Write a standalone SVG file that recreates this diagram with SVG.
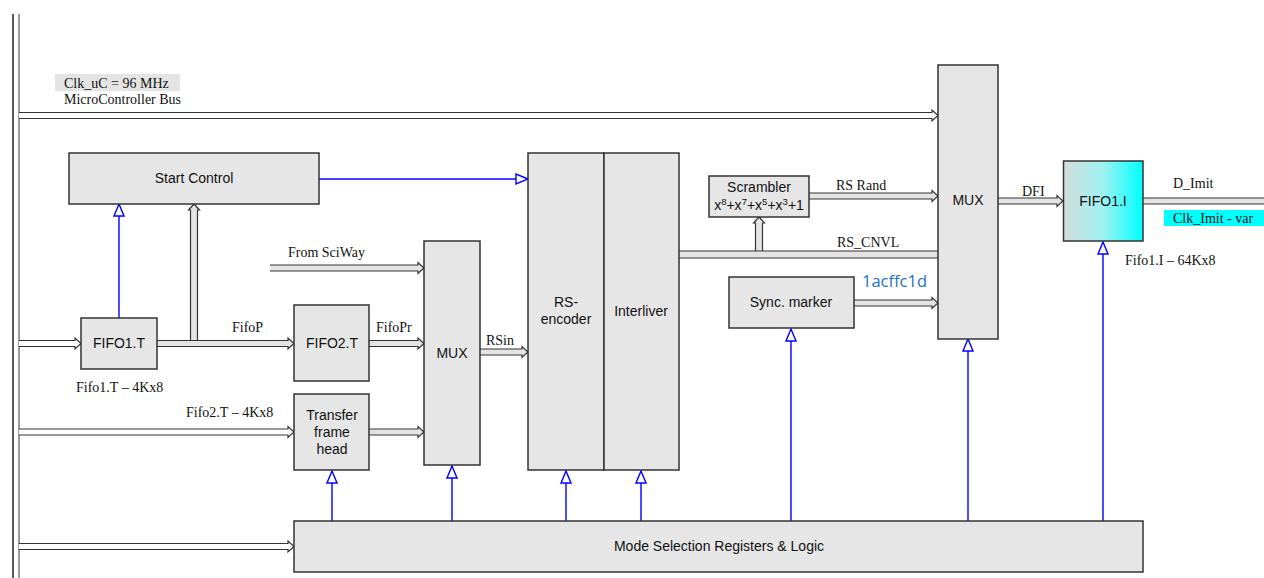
<svg xmlns="http://www.w3.org/2000/svg" width="1264" height="578" viewBox="0 0 1264 578">
<style>
.box{fill:#e6e6e6;stroke:#333;stroke-width:1.5}
.bus{fill:#e4e4e4;stroke:#333;stroke-width:1.2}
.busw{fill:#fff;stroke:#333;stroke-width:1.2}
.ctl{stroke:#0000ff;stroke-width:1.4;fill:none;marker-end:url(#tri)}
.t{font-family:"Liberation Sans",Arial,sans-serif;font-size:14px;fill:#111;text-anchor:middle}
.s{font-family:"Liberation Serif","Times New Roman",serif;font-size:14px;fill:#111}
</style>
<defs>
<marker id="tri" markerWidth="12" markerHeight="14" refX="6" refY="1" orient="0" markerUnits="userSpaceOnUse" viewBox="0 0 12 14">
<path d="M6,1 L11,13 L1,13 Z" fill="#fff" stroke="#0000ff" stroke-width="1.4"/>
</marker>
<marker id="triR" markerWidth="14" markerHeight="12" refX="13" refY="6" orient="0" markerUnits="userSpaceOnUse" viewBox="0 0 14 12">
<path d="M13,6 L1,1 L1,11 Z" fill="#fff" stroke="#0000ff" stroke-width="1.4"/>
</marker>
<linearGradient id="cy" x1="0" y1="0" x2="1" y2="0">
<stop offset="0" stop-color="#d4dcdc"/>
<stop offset="0.5" stop-color="#9ef2f2"/>
<stop offset="1" stop-color="#00ffff"/>
</linearGradient>
</defs>
<rect width="1264" height="578" fill="#fff"/>

<g id="bus-left">
<line x1="13" y1="14" x2="13" y2="578" stroke="#222" stroke-width="1.5"/>
<line x1="19" y1="14" x2="19" y2="578" stroke="#777" stroke-width="1.5"/>
</g>

<g id="labels-top">
<rect x="55" y="74" width="125" height="17" fill="#e4e4e4"/>
<text class="s" x="64" y="88">Clk_uC = 96 MHz</text>
<text class="s" x="64" y="104">MicroController Bus</text>
</g>

<g id="connectors">
<!-- up buses -->
<path class="bus" d="M190.5,340.5 V210 H188.5 L194,204 L199.5,210 H197.5 V340.5"/>
<path class="bus" d="M755.5,251 V223 H753.5 L759,217 L764.5,223 H762.5 V251"/>
<!-- right pointing buses -->
<path class="busw" d="M19,112.5 H932 V110 L938,115.5 L932,121 V118.5 H19"/>
<path class="busw" d="M19,340.5 H75 V338 L81,343.5 L75,349 V346.5 H19"/>
<path class="bus" d="M157,340.5 H288 V338 L294,343.5 L288,349 V346.5 H157"/>
<path class="bus" d="M369,340.5 H418 V338 L424,343.5 L418,349 V346.5 H369"/>
<path class="bus" d="M270,265 H418 V262.5 L424,268 L418,273.5 V271 H270"/>
<path class="busw" d="M19,429 H288 V426.5 L294,432 L288,437.5 V435 H19"/>
<path class="bus" d="M369,429 H418 V426.5 L424,432 L418,437.5 V435 H369"/>
<path class="bus" d="M480,349 H522 V346.5 L528,352 L522,357.5 V355 H480"/>
<path class="bus" d="M809,193 H932 V190.5 L938,196 L932,201.5 V199 H809"/>
<path class="bus" d="M854,300 H932 V297.5 L938,303 L932,308.5 V306 H854"/>
<path class="bus" d="M998,198 H1057 V195.5 L1063,201 L1057,206.5 V204 H998"/>
<path class="busw" d="M19,543.5 H288 V541 L294,546.5 L288,552 V549.5 H19"/>
<!-- plain buses -->
<rect x="679" y="251" width="259" height="7" fill="#e4e4e4"/>
<path d="M679,251 H938 M679,258 H938" stroke="#333" stroke-width="1.2" fill="none"/>
<rect x="1143" y="198" width="121" height="6" fill="#e4e4e4"/>
<path d="M1143,198 H1264 M1143,204 H1264" stroke="#333" stroke-width="1.2" fill="none"/>
<!-- control lines -->
<line x1="319" y1="179" x2="528" y2="179" stroke="#0000ff" stroke-width="1.4" marker-end="url(#triR)"/>
<line class="ctl" x1="119" y1="318" x2="119" y2="204"/>
<line class="ctl" x1="332" y1="521" x2="332" y2="471"/>
<line class="ctl" x1="452" y1="521" x2="452" y2="466"/>
<line class="ctl" x1="566" y1="521" x2="566" y2="471"/>
<line class="ctl" x1="641" y1="521" x2="641" y2="471"/>
<line class="ctl" x1="791" y1="521" x2="791" y2="329"/>
<line class="ctl" x1="968" y1="521" x2="968" y2="339"/>
<line class="ctl" x1="1103" y1="521" x2="1103" y2="242"/>
<!-- connector labels -->
<text class="s" x="232" y="332">FifoP</text>
<text class="s" x="376" y="332">FifoPr</text>
<text class="s" x="288" y="257">From SciWay</text>
<text class="s" x="486" y="345">RSin</text>
<text class="s" x="836" y="190">RS Rand</text>
<text class="s" x="837" y="247">RS_CNVL</text>
<text x="862" y="287" font-family="'Open Sans','Liberation Sans',sans-serif" font-size="16.5" fill="#1f6fc4">1acffc1d</text>
<text class="s" x="1022" y="196">DFI</text>
<text class="s" x="1173" y="188">D_Imit</text>
<rect x="1164" y="210" width="100" height="16" fill="#00ffff"/>
<text class="s" x="1173" y="223">Clk_Imit - var</text>
<text class="s" x="76" y="392">Fifo1.T – 4Kx8</text>
<text class="s" x="186" y="417">Fifo2.T – 4Kx8</text>
<text class="s" x="1125" y="265">Fifo1.I – 64Kx8</text>
</g>

<g id="start-control">
<rect class="box" x="69" y="153" width="250" height="51"/>
<text class="t" x="194" y="183">Start Control</text>
</g>
<g id="fifo1t">
<rect class="box" x="81" y="318" width="76" height="51"/>
<text class="t" x="119" y="348">FIFO1.T</text>
</g>
<g id="fifo2t">
<rect class="box" x="294" y="305" width="75" height="76"/>
<text class="t" x="332" y="348">FIFO2.T</text>
</g>
<g id="tfh">
<rect class="box" x="294" y="394" width="75" height="76"/>
<text class="t" x="332" y="420">Transfer</text>
<text class="t" x="332" y="437">frame</text>
<text class="t" x="332" y="454">head</text>
</g>
<g id="mux1">
<rect class="box" x="424" y="241" width="56" height="224"/>
<text class="t" x="452" y="358">MUX</text>
</g>
<g id="rs-encoder">
<rect class="box" x="528" y="153" width="76" height="317"/>
<text class="t" x="566" y="307">RS-</text>
<text class="t" x="566" y="324">encoder</text>
</g>
<g id="interliver">
<rect class="box" x="604" y="153" width="75" height="317"/>
<text class="t" x="641" y="316">Interliver</text>
</g>
<g id="scrambler">
<rect class="box" x="709" y="176" width="100" height="41"/>
<text class="t" x="759" y="192">Scrambler</text>
<text class="t" x="759" y="210" font-size="13.5">x<tspan dy="-5" font-size="9.5">8</tspan><tspan dy="5">+x</tspan><tspan dy="-5" font-size="9.5">7</tspan><tspan dy="5">+x</tspan><tspan dy="-5" font-size="9.5">5</tspan><tspan dy="5">+x</tspan><tspan dy="-5" font-size="9.5">3</tspan><tspan dy="5">+1</tspan></text>
</g>
<g id="sync-marker">
<rect class="box" x="729" y="277" width="125" height="51"/>
<text class="t" x="791" y="307">Sync. marker</text>
</g>
<g id="mux2">
<rect class="box" x="938" y="65" width="60" height="274"/>
<text class="t" x="968" y="205">MUX</text>
</g>
<g id="fifo1i">
<rect x="1063.5" y="161" width="79.5" height="80" fill="url(#cy)" stroke="#333" stroke-width="1.5"/>
<text class="t" x="1103" y="206">FIFO1.I</text>
</g>
<g id="mode-sel">
<rect class="box" x="294" y="521" width="849" height="51"/>
<text class="t" x="719" y="551" font-size="13.5">Mode Selection Registers &amp; Logic</text>
</g>
</svg>
